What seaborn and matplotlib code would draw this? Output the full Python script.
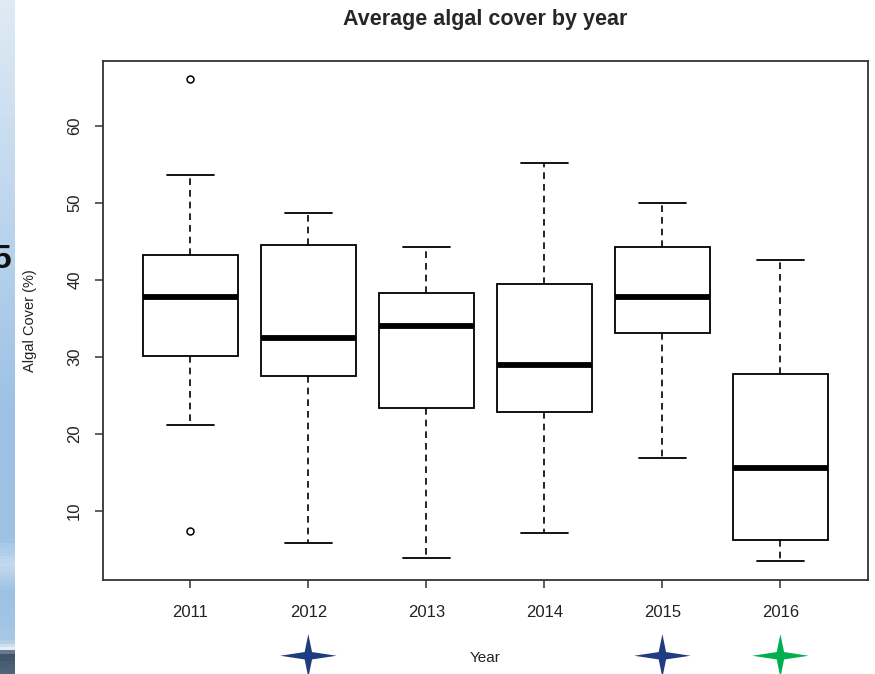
import numpy as np
import pandas as pd
import matplotlib.pyplot as plt
import seaborn as sns
from matplotlib.path import Path
from matplotlib.colors import LinearSegmentedColormap

# Values (five-number summaries per year)
years = ['2011', '2012', '2013', '2014', '2015', '2016']
whisker_low = [21.2, 5.8, 3.9, 7.1, 16.9, 3.5]
q1 = [30.1, 27.5, 23.4, 22.9, 33.1, 6.2]
median = [37.8, 32.5, 34.0, 29.0, 37.8, 15.6]
q3 = [43.2, 44.5, 38.3, 39.5, 44.2, 27.8]
whisker_high = [53.6, 48.7, 44.2, 55.2, 50.0, 42.6]
outliers_low = [[7.4], [], [], [], [], []]
outliers_high = [[66.0], [], [], [], [], []]

# years flagged with stars under the axis
star_years = ['2012', '2015', '2016']
star_colors = ['#1f3c80', '#1f3c80', '#00b050']

# Build a long table whose quartiles/whiskers reproduce the summaries
rows = []
for i, yr in enumerate(years):
    lo = outliers_low[i]
    hi = outliers_high[i]
    if lo or hi:
        vals = lo + [whisker_low[i], q1[i], q1[i], median[i], q3[i], q3[i], whisker_high[i]] + hi
    else:
        vals = [whisker_low[i], q1[i], median[i], q3[i], whisker_high[i]]
    for v in vals:
        rows.append({'Year': yr, 'Cover': v})
df = pd.DataFrame(rows)

sns.set_style('white')
plt.rcParams['font.family'] = ['Liberation Sans', 'DejaVu Sans']

fig = plt.figure(figsize=(8.75, 6.74), dpi=100)
ax = fig.add_axes([0.1177, 0.1395, 0.874, 0.7700])

sns.boxplot(data=df, x='Year', y='Cover', order=years, ax=ax,
            color='white', linecolor='black', linewidth=1.3, width=0.8, whis=1.5,
            medianprops=dict(linewidth=4.2, color='black'),
            whiskerprops=dict(linestyle=(0, (4, 3)), linewidth=1.2),
            capprops=dict(linewidth=1.3),
            flierprops=dict(marker='o', markersize=5, markerfacecolor='none',
                            markeredgecolor='black', markeredgewidth=1.1))

ax.set_xlim(-0.74, 5.74)
ax.set_ylim(1.04, 68.4)
ax.set_yticks([10, 20, 30, 40, 50, 60])
for s in ax.spines.values():
    s.set_color('#333333')
    s.set_linewidth(1.3)
ax.tick_params(axis='both', direction='out', length=6, width=1.1, color='#333333',
               labelcolor='#222222', labelsize=12)
ax.tick_params(axis='x', pad=12, bottom=True)
ax.tick_params(axis='y', pad=9, left=True)
for lab in ax.get_yticklabels():
    lab.set_rotation(90)
    lab.set_va('center')

ax.set_title('Average algal cover by year', fontsize=15.5, fontweight='bold', pad=26)
ax.set_xlabel('Year', fontsize=11, labelpad=22, color='#222222')
ax.set_ylabel('Algal Cover (%)', fontsize=10.5, labelpad=22, color='#222222')

# four-pointed star markers under the flagged years
star = Path([(0, 1), (0.17, 0.17), (1.3, 0), (0.17, -0.17), (0, -1),
             (-0.17, -0.17), (-1.3, 0), (-0.17, 0.17), (0, 1)],
            [Path.MOVETO] + [Path.LINETO] * 7 + [Path.CLOSEPOLY])
trans = ax.get_xaxis_transform()
ax.scatter([years.index(y) for y in star_years], [-0.146] * len(star_years),
           marker=star, s=1650, c=star_colors, linewidths=0, transform=trans,
           clip_on=False, zorder=5)

# blue slide background strip at the left edge
strip = fig.add_axes([0, 0, 15 / 875, 1])
cmap = LinearSegmentedColormap.from_list('strip', [
    (0.0, '#dfeaf5'), (0.35, '#b9d3ec'), (0.6, '#9ec2e5'), (0.8, '#9cc1e3'),
    (0.84, '#c4dbef'), (0.88, '#9cc1e3'), (0.955, '#a8c8e6'), (0.965, '#e8eff6'),
    (0.975, '#3c536b'), (1.0, '#4f6477')])
strip.imshow(np.linspace(0, 1, 200).reshape(-1, 1), aspect='auto', cmap=cmap,
             extent=[0, 1, 1, 0])
strip.set_axis_off()
fig.text(12 / 875, 1 - 260 / 674, '5', fontsize=24, fontweight='bold',
         ha='right', va='center', color='#111111')

fig.savefig('out.png', dpi=100)
